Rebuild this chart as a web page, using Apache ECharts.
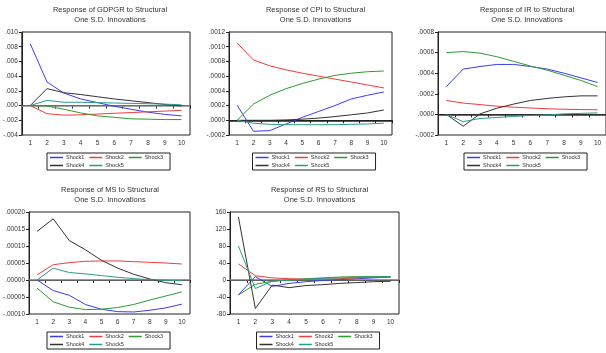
<!DOCTYPE html>
<html>
<head>
<meta charset="utf-8">
<script src="https://cdn.jsdelivr.net/npm/echarts@6/dist/echarts.min.js"></script>
<style>
  html, body { margin: 0; padding: 0; background: #fff; }
  #chart { width: 606px; height: 353px; }
</style>
</head>
<body>
<div id="chart"></div>
<script>
// periods on the x axis
var periods = ['1', '2', '3', '4', '5', '6', '7', '8', '9', '10']
var shockNames = ['Shock1', 'Shock2', 'Shock3', 'Shock4', 'Shock5']
var shockColors = ['#3c3cf0', '#f03c3c', '#2f9a2f', '#333333', '#2a9a8c']

// Response of GDPGR
var gdpgrShock1 = [0.0084, 0.0032, 0.0017, 0.0009, 0.0004, -0.0001, -0.0005, -0.0009, -0.0012, -0.0014]
var gdpgrShock2 = [0, -0.0011, -0.0013, -0.00125, -0.00115, -0.00105, -0.00095, -0.00085, -0.00075, -0.00065]
var gdpgrShock3 = [0, -0.00005, -0.0005, -0.001, -0.0014, -0.0016, -0.0018, -0.00185, -0.0019, -0.0019]
var gdpgrShock4 = [0, 0.0023, 0.00175, 0.0015, 0.0012, 0.0009, 0.00065, 0.0004, 0.00015, -0.00005]
var gdpgrShock5 = [0, 0.0007, 0.00045, 0.00045, 0.0004, 0.00035, 0.0003, 0.00025, 0.0002, 0.0001]

// Response of CPI
var cpiShock1 = [0.000205, -0.00015, -0.00014, -0.00005, 0.00004, 0.00012, 0.0002, 0.00029, 0.00034, 0.000385]
var cpiShock2 = [0.00105, 0.00082, 0.00074, 0.000685, 0.00064, 0.0006, 0.00056, 0.00052, 0.00048, 0.00044]
var cpiShock3 = [0, 0.00022, 0.00034, 0.00043, 0.0005, 0.00056, 0.00061, 0.00064, 0.00066, 0.00067]
var cpiShock4 = [0, 0, 0, 0.000005, 0.000015, 0.00003, 0.00005, 0.000075, 0.0001, 0.00014]
var cpiShock5 = [0, -0.00004, -0.000055, -0.00006, -0.00006, -0.00006, -0.00006, -0.000055, -0.00005, -0.00004]

// Response of IR
var irShock1 = [0.00027, 0.00044, 0.000465, 0.000485, 0.000485, 0.000465, 0.00044, 0.0004, 0.000355, 0.00031]
var irShock2 = [0.000135, 0.00011, 0.000095, 0.00008, 0.00007, 0.000062, 0.000055, 0.00005, 0.000047, 0.000045]
var irShock3 = [0.0006, 0.00061, 0.000595, 0.00056, 0.000515, 0.00047, 0.00043, 0.00038, 0.00033, 0.00027]
var irShock4 = [0, -0.000115, 0.000005, 0.00006, 0.0001, 0.000135, 0.000155, 0.00017, 0.00018, 0.00018]
var irShock5 = [0, -0.00007, -0.00004, -0.00003, -0.00002, -0.00001, -0.000005, 0.000005, 0.00001, 0.000015]

// Response of MS
var msShock1 = [0, -0.000031, -0.000045, -0.000072, -0.000086, -0.000093, -0.000094, -0.000089, -0.000082, -0.000071]
var msShock2 = [0.000015, 0.000045, 0.000051, 0.000055, 0.000056, 0.000056, 0.000054, 0.000052, 0.00005, 0.000047]
var msShock3 = [-0.000024, -0.000064, -0.00008, -0.000087, -0.000086, -0.000081, -0.000072, -0.000059, -0.000047, -0.000035]
var msShock4 = [0.000143, 0.00018, 0.000116, 0.000089, 0.000058, 0.000035, 0.000017, 0.000003, -0.000008, -0.000014]
var msShock5 = [0, 0.000035, 0.000022, 0.000018, 0.000013, 0.000008, 0.000004, 0.000001, -0.000001, -0.000002]

// Response of RS
var rsShock1 = [-35, 8, -15, -8, -4, -1, 1, 3, 5, 7]
var rsShock2 = [38, 10, 5, 3, 2, 2, 3, 5, 6, 7]
var rsShock3 = [-35, -10, -3, 0, 3, 5, 7, 8, 8, 8]
var rsShock4 = [148, -67, -12, -18, -13, -11, -8, -6, -4, -3]
var rsShock5 = [80, -20, -3, 0, 2, 4, 5, 6, 7, 8]

var panels = [
  { title: 'Response of GDPGR to Structural\nOne S.D. Innovations', data: [gdpgrShock1, gdpgrShock2, gdpgrShock3, gdpgrShock4, gdpgrShock5],
    min: -0.004, max: 0.010, interval: 0.002, decimals: 3, zeroColor: '#888',
    grid: { left: 20, top: 32, width: 170, height: 103 } },
  { title: 'Response of CPI to Structural\nOne S.D. Innovations', data: [cpiShock1, cpiShock2, cpiShock3, cpiShock4, cpiShock5],
    min: -0.0002, max: 0.0012, interval: 0.0002, decimals: 4, zeroColor: '#222',
    grid: { left: 229, top: 32, width: 163, height: 103 } },
  { title: 'Response of IR to Structural\nOne S.D. Innovations', data: [irShock1, irShock2, irShock3, irShock4, irShock5],
    min: -0.0002, max: 0.0008, interval: 0.0002, decimals: 4, zeroColor: '#333',
    grid: { left: 438, top: 32, width: 168, height: 103 } },
  { title: 'Response of MS to Structural\nOne S.D. Innovations', data: [msShock1, msShock2, msShock3, msShock4, msShock5],
    min: -0.0001, max: 0.0002, interval: 0.00005, decimals: 5, zeroColor: '#777',
    grid: { left: 20, top: 212, width: 170, height: 102 } },
  { title: 'Response of RS to Structural\nOne S.D. Innovations', data: [rsShock1, rsShock2, rsShock3, rsShock4, rsShock5],
    min: -80, max: 160, interval: 40, decimals: 0, zeroColor: '#777',
    grid: { left: 230, top: 212, width: 169, height: 102 } }
]

function fmt(v, d) {
  if (d === 0) return String(Math.round(v))
  var s = Math.abs(v).toFixed(d).replace(/^0/, '')
  return (v < -1e-12 ? '-' : '') + s
}

var option = {
  animation: false,
  backgroundColor: '#fff',
  title: [], grid: [], xAxis: [], yAxis: [], legend: [], series: []
}

panels.forEach(function(p, i) {
  var cx = p.grid.left + p.grid.width / 2
  option.grid.push({
    left: p.grid.left, top: p.grid.top, width: p.grid.width, height: p.grid.height,
    show: true, borderColor: '#222', borderWidth: 1, backgroundColor: '#fff'
  })
  option.title.push({
    text: p.title, left: cx, top: p.grid.top - 32, textAlign: 'center',
    textStyle: { fontSize: 7.5, fontWeight: 'normal', color: '#333', fontFamily: 'Liberation Sans', lineHeight: 10 }
  })
  option.xAxis.push({
    type: 'category', gridIndex: i, data: periods, boundaryGap: true,
    axisLine: { show: true, lineStyle: { color: '#222', width: 1 } },
    axisTick: { show: true, length: 3, lineStyle: { color: '#222' } },
    axisLabel: { fontSize: 6.5, color: '#333', margin: 5, fontFamily: 'Liberation Sans' },
    splitLine: { show: false }
  })
  option.yAxis.push({
    type: 'value', gridIndex: i, min: p.min, max: p.max, interval: p.interval,
    axisLine: { show: true, lineStyle: { color: '#222', width: 1 } },
    axisTick: { show: true, length: 3, lineStyle: { color: '#222' } },
    axisLabel: { fontSize: 6.5, color: '#333', margin: 4, fontFamily: 'Liberation Sans',
      formatter: function(v) { return fmt(v, p.decimals) } },
    splitLine: { show: false }
  })
  p.data.forEach(function(values, k) {
    var s = {
      name: shockNames[k], type: 'line', xAxisIndex: i, yAxisIndex: i,
      data: values, symbol: 'none', smooth: false,
      lineStyle: { color: shockColors[k], width: 1 }, itemStyle: { color: shockColors[k] },
      z: 3
    }
    if (k === 0) {
      s.markLine = {
        silent: true, symbol: 'none', label: { show: false },
        lineStyle: { color: p.zeroColor, width: 1.5, type: 'solid' },
        data: [{ yAxis: 0 }], z: 2
      }
    }
    option.series.push(s)
  })
  // 3 items in the first row, 2 in the second
  option.legend.push({
    data: shockNames, left: cx - 58, top: p.grid.top + p.grid.height + 18,
    width: 122, orient: 'horizontal', icon: 'rect', itemWidth: 13, itemHeight: 1.5, itemGap: 1,
    padding: [1, 3, 1, 3], borderColor: '#222', borderWidth: 1,
    selectedMode: false,
    textStyle: { fontSize: 5.5, color: '#333', fontFamily: 'Liberation Sans', padding: [0, 4, 0, -2], lineHeight: 7 }
  })
})

var chart = echarts.init(document.getElementById('chart'), null, { renderer: 'canvas' })
chart.setOption(option)
</script>
</body>
</html>
